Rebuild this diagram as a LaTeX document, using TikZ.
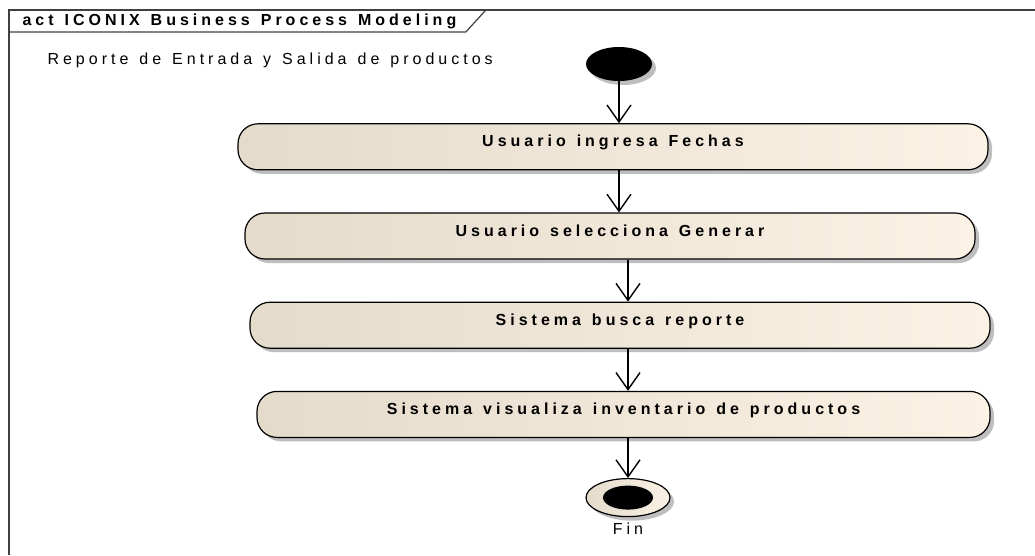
\documentclass[tikz,border=0pt]{standalone}
\usepackage{fontspec}
\setmainfont{Liberation Sans}[LetterSpace=25, WordSpace=1.3]
\usepackage{xcolor}
\usepackage{tikz}
\usetikzlibrary{
    arrows.meta,
    positioning,
    shapes.geometric,
    shadows
}

\definecolor{actleft}{RGB}{229,219,203}
\definecolor{actright}{RGB}{251,242,229}
\definecolor{shadowgray}{RGB}{190,190,190}

\begin{document}
\begin{tikzpicture}[
        x=1pt,
        y=-1pt,
        node distance=42pt,
        action/.style={
            rectangle,
            rounded corners=20pt,
            draw,
            line width=1.2pt,
            left color=actleft,
            right color=actright,
            drop shadow={shadow xshift=4pt, shadow yshift=-4pt,
                fill=shadowgray, opacity=1},
            font=\fontsize{16}{18}\selectfont\bfseries,
            text height=9pt,
            text depth=9pt,
            minimum height=46pt
        },
        startdot/.style={
            ellipse,
            fill=black,
            inner sep=0pt,
            minimum width=66pt,
            minimum height=34pt,
            drop shadow={shadow xshift=4pt, shadow yshift=-4pt,
                fill=shadowgray, opacity=1}
        },
        enddot/.style={
            ellipse,
            draw,
            line width=1.2pt,
            left color=actleft,
            right color=actright,
            inner sep=0pt,
            minimum width=84pt,
            minimum height=38pt,
            drop shadow={shadow xshift=4pt, shadow yshift=-4pt,
                fill=shadowgray, opacity=1}
        },
        diagramframe/.style={
            draw=black!75,
            line width=1.2pt
        },
        line/.style={
            -{Straight Barb[length=17pt,width=24pt]},
            line width=1.4pt
        }
    ]

    \useasboundingbox (0,0) rectangle (1035,555);

    \node[anchor=west, font=\fontsize{16}{18}\selectfont\bfseries] (title) at (19,21)
        {act ICONIX Business Process Modeling};

    \draw[diagramframe] (9,555) -- (9,10) -- (1035,10);
    \draw[diagramframe] (9,32) -- ([xshift=6pt]title.east |- 0,32)
        -- ([xshift=26pt]title.east |- 0,10);

    \node[anchor=west, font=\fontsize{16}{18}\selectfont] (caption) at (44,60)
        {Reporte de Entrada y Salida de productos};

    \node[startdot] (start) at (619,64) {};

    \node[action, minimum width=750pt, below=of start, xshift=-6pt] (fechas)
        {Usuario ingresa Fechas};

    \node[action, minimum width=730pt, below=of fechas, xshift=-3pt] (generar)
        {Usuario selecciona Generar};

    \node[action, minimum width=740pt, below=of generar, xshift=10pt] (buscar)
        {Sistema busca reporte};

    \node[action, minimum width=733pt, below=of buscar, xshift=3.5pt] (mostrar)
        {Sistema visualiza inventario de productos};

    \node[enddot, below=40pt of mostrar, xshift=4.5pt] (fin) {};
    \node[ellipse, fill=black, inner sep=0pt, minimum width=50pt,
        minimum height=24pt] (finin) at (fin) {};
    \node[below=2pt of fin, font=\fontsize{16}{18}\selectfont] (finlabel) {Fin};

    \draw[line] (start) -- (start |- fechas.north);
    \draw[line] (fechas.south -| start) -- (generar.north -| start);
    \draw[line] (generar.south -| fin) -- (buscar.north -| fin);
    \draw[line] (buscar.south -| fin) -- (mostrar.north -| fin);
    \draw[line] (mostrar.south -| fin) -- (fin);

\end{tikzpicture}
\end{document}
